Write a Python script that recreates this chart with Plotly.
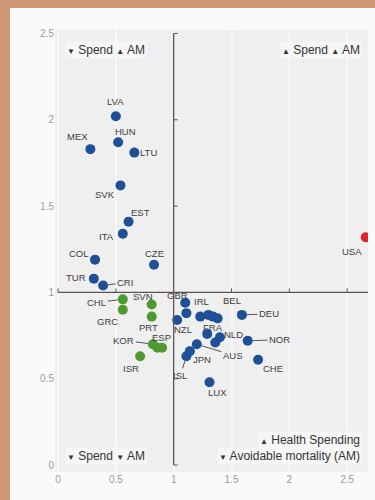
import plotly.graph_objects as go

# ---------------- data ----------------
codes = ["LVA", "HUN", "MEX", "LTU", "SVK", "EST", "ITA", "COL", "CZE", "TUR", "CRI",
         "USA",
         "CHL", "GRC", "SVN", "PRT", "KOR", "ESP", "POL", "ISR",
         "GBR", "IRL", "NZL", "AUT", "SWE", "DNK", "BEL", "DEU", "FRA", "NLD", "FIN",
         "NOR", "AUS", "JPN", "ISL", "CHE", "LUX"]
spend = [0.50, 0.52, 0.28, 0.66, 0.54, 0.61, 0.56, 0.32, 0.83, 0.31, 0.39,
         2.66,
         0.56, 0.56, 0.81, 0.81, 0.82, 0.86, 0.90, 0.71,
         1.10, 1.11, 1.03, 1.23, 1.30, 1.34, 1.38, 1.59, 1.29, 1.40, 1.36,
         1.64, 1.20, 1.14, 1.11, 1.73, 1.31]
am = [2.02, 1.87, 1.83, 1.81, 1.62, 1.41, 1.34, 1.19, 1.16, 1.08, 1.04,
      1.32,
      0.96, 0.90, 0.93, 0.86, 0.70, 0.68, 0.68, 0.63,
      0.94, 0.88, 0.84, 0.86, 0.87, 0.86, 0.85, 0.87, 0.76, 0.74, 0.71,
      0.72, 0.70, 0.66, 0.63, 0.61, 0.48]
group = ["blue"] * 11 + ["red"] + ["green"] * 8 + ["blue"] * 17

x_ticks = [0, 0.5, 1, 1.5, 2, 2.5]
y_ticks = [0, 0.5, 1, 1.5, 2, 2.5]
x_ticktext = ["0", "0.5", "1", "1.5", "2", "2.5"]
y_ticktext = ["0", "0.5", "1", "1.5", "2", "2.5"]

# ---------------- styling ----------------
COLORS = {"blue": "#1f4f95", "green": "#4f9a30", "red": "#e0262b"}
FONT = "Liberation Sans, Arial, sans-serif"
XR = [-0.026, 2.68]
YR = [-0.04, 2.52]
TAN = "#cd9773"

# label offsets in pixels (dx, dy downwards, leader line?)
LABEL_STYLE = {
    "LVA": (0, -15, False), "HUN": (7, -11, False), "MEX": (-13, -13, False),
    "LTU": (14, 0, False), "SVK": (-15, 9, False), "EST": (12, -9, False),
    "ITA": (-16, 3, False), "COL": (-16, -6, False), "CZE": (0, -11, False),
    "TUR": (-18, -1, False), "CRI": (22, -3, True), "USA": (-14, 14, False),
    "CHL": (-26, 3, True), "GRC": (-15, 12, False), "SVN": (-9, -8, False),
    "PRT": (-3, 11, False), "KOR": (-29, -4, True), "ESP": (4, -10, False),
    "ISR": (-9, 12, False), "GBR": (-8, -7, False), "IRL": (15, -12, False),
    "BEL": (14, -18, False), "DEU": (27, -1, True), "NZL": (6, 9, False),
    "FRA": (6, -6, False), "NLD": (14, -3, False), "NOR": (32, -1, True),
    "AUS": (36, 11, True), "JPN": (12, 8, False), "ISL": (-6, 19, True),
    "CHE": (15, 9, False), "LUX": (8, 10, False),
}

fig = go.Figure()
for g in ["blue", "green", "red"]:
    idx = [i for i, gg in enumerate(group) if gg == g]
    fig.add_trace(go.Scatter(
        x=[spend[i] for i in idx], y=[am[i] for i in idx],
        text=[codes[i] for i in idx], mode="markers",
        marker=dict(size=10, color=COLORS[g], line=dict(width=0)),
        hovertemplate="%{text}<br>Spend %{x}<br>AM %{y}<extra></extra>",
        showlegend=False))

annotations = []
for i, c in enumerate(codes):
    if c not in LABEL_STYLE:
        continue
    dx, dy, leader = LABEL_STYLE[c]
    base = dict(x=spend[i], y=am[i], xref="x", yref="y", text=c,
                font=dict(family=FONT, size=9.5, color="#3c3c3c"))
    if leader:
        base.update(showarrow=True, ax=dx, ay=dy, arrowhead=0, arrowwidth=1,
                    arrowcolor="#555555", standoff=5)
    else:
        base.update(showarrow=False, xshift=dx, yshift=-dy)
    annotations.append(base)

tri_dn = "<span style='font-size:8px'>▼</span>"
tri_up = "<span style='font-size:8px'>▲</span>"
qfont = dict(family=FONT, size=12, color="#333333")
quad = [
    (0.032, 0.955, "left", f"{tri_dn} Spend {tri_up} AM"),
    (0.981, 0.955, "right", f"{tri_up} Spend {tri_up} AM"),
    (0.032, 0.036, "left", f"{tri_dn} Spend {tri_dn} AM"),
    (0.981, 0.072, "right", f"{tri_up} Health Spending"),
    (0.981, 0.036, "right", f"{tri_dn} Avoidable mortality (AM)"),
]
for qx, qy, anc, txt in quad:
    annotations.append(dict(x=qx, y=qy, xref="paper", yref="paper", xanchor=anc,
                            yanchor="middle", text=txt, showarrow=False, font=qfont,
                            bgcolor="rgba(250,250,250,0.7)"))

shapes = []
# cross axes at 1
shapes.append(dict(type="line", xref="x", yref="y", x0=0, x1=XR[1], y0=1, y1=1,
                   line=dict(color="#555555", width=1.3)))
shapes.append(dict(type="line", xref="x", yref="y", x0=1, x1=1, y0=0, y1=2.5,
                   line=dict(color="#555555", width=1.3)))
for t in x_ticks:
    if t == 1:
        continue
    shapes.append(dict(type="line", xref="x", yref="y", ysizemode="pixel", yanchor=1,
                       x0=t, x1=t, y0=0, y1=4, line=dict(color="#555555", width=1)))
for t in y_ticks:
    if t == 1:
        continue
    shapes.append(dict(type="line", xref="x", yref="y", xsizemode="pixel", xanchor=1,
                       y0=t, y1=t, x0=0, x1=4, line=dict(color="#555555", width=1)))

fig.update_layout(
    width=365, height=492,
    margin=dict(l=45, r=7, t=22, b=28),
    paper_bgcolor="#fafafa", plot_bgcolor="#efefef",
    annotations=annotations, shapes=shapes,
    xaxis=dict(range=XR, tickvals=x_ticks, ticktext=x_ticktext, showline=False,
               zeroline=False, showgrid=True, gridcolor="#f6f6f6", gridwidth=2,
               ticks="", tickfont=dict(family=FONT, size=10, color="#9a9a9a")),
    yaxis=dict(range=YR, tickvals=y_ticks, ticktext=y_ticktext, showline=False,
               zeroline=False, showgrid=False, ticks="",
               tickfont=dict(family=FONT, size=10, color="#9a9a9a")),
    showlegend=False,
)

fig.write_html(
    "out.html",
    config={"displayModeBar": False},
    post_script=("document.body.style.margin='8px 0 0 10px';"
                 "document.body.style.overflow='hidden';"
                 f"document.body.style.background='{TAN}';"
                 f"document.documentElement.style.background='{TAN}';"),
)
